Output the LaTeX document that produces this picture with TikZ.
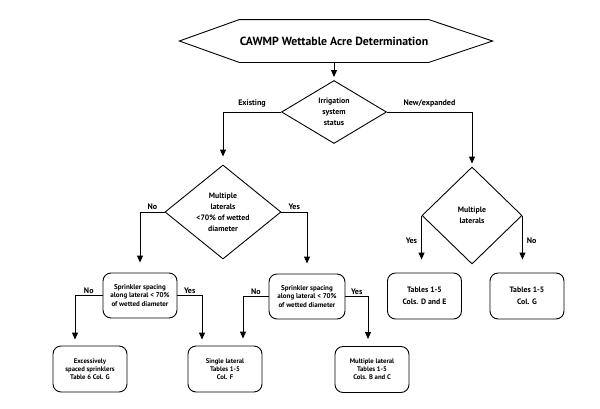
\documentclass[tikz,border=0pt]{standalone}
\usepackage{fontspec}
\setmainfont{PT Sans}
\usepackage{tikz}
\usetikzlibrary{shapes.geometric,arrows.meta,calc,positioning}

\begin{document}
\begin{tikzpicture}[x=1pt,y=-1pt,line width=0.9pt,
                    arr/.style={-{Triangle[length=7pt,width=6pt]}},
                    decision/.style={diamond,draw,inner sep=0pt,align=center,font=\bfseries\fontsize{7.8}{11}\selectfont},
                    main node/.style={rectangle,rounded corners=8pt,draw,align=center,inner sep=0pt,minimum width=74pt,minimum height=46pt},
                    lbl/.style={font=\bfseries\fontsize{8}{9}\selectfont,above,inner sep=1.5pt}]
\useasboundingbox (0,0) rectangle (600,408);

% title banner
\node[minimum width=178pt,minimum height=42pt,inner sep=0pt,font=\bfseries\fontsize{11.8}{13}\selectfont] (title) at (334,41) {CAWMP Wettable Acre Determination};
\draw (title.north west) -- (title.north east) -- ([xshift=64pt]title.east) -- (title.south east)
      -- (title.south west) -- ([xshift=-60pt]title.west) -- cycle;

% decisions
\node[decision,minimum width=105pt,minimum height=63pt] (status) at (334,112) {Irrigation\\system\\status};
\node[decision,minimum width=116pt,minimum height=94pt] (lat) at (223,212) {Multiple\\laterals\\<70\% of wetted\\diameter};
\node[decision,minimum width=100pt,minimum height=97pt] (new) at (472,215.5) {Multiple\\laterals};

% boxes
\node[main node,minimum width=74pt,minimum height=45pt,font=\bfseries\fontsize{7}{8.5}\selectfont] (spc1) at (140,295.5) {Sprinkler spacing\\along lateral < 70\%\\of wetted diameter};
\node[main node,minimum width=76pt,minimum height=45pt,font=\bfseries\fontsize{7}{8.5}\selectfont] (spc2) at (307,296.5) {Sprinkler spacing\\along lateral < 70\%\\of wetted diameter};
\node[main node,font=\bfseries\fontsize{7.8}{12.5}\selectfont] (de) at (424.5,296) {Tables 1-5\\Cols. D and E};
\node[main node,font=\bfseries\fontsize{7.8}{12.5}\selectfont] (g) at (527,296) {Tables 1-5\\Col. G};
\node[main node,font=\bfseries\fontsize{6.7}{8}\selectfont] (exc) at (90,369) {Excessively\\spaced sprinklers\\Table 6 Col. G};
\node[main node,font=\bfseries\fontsize{6.7}{8}\selectfont] (single) at (225,369) {Single lateral\\Tables 1-5\\Col. F};
\node[main node,font=\bfseries\fontsize{6.7}{8}\selectfont] (multi) at (372,369.5) {Multiple lateral\\Tables 1-5\\Cols. B and C};

% connectors
\draw[arr,shorten >=3pt] (title.south) -- (status.north);
\draw[arr,shorten >=8pt] (status.west) -| node[lbl,pos=0.25,yshift=3pt]{Existing} (lat.north);
\draw[arr,shorten >=3pt] (status.east) -| node[lbl,pos=0.25,yshift=3pt]{New/expanded} (new.north);

\draw[arr,shorten >=10pt] (lat.west) -| node[lbl,pos=0.25]{No} (spc1.north);
\draw[arr,shorten >=10pt] (lat.east) -| node[lbl,pos=0.25]{Yes} (spc2.north);

\draw[arr,shorten >=13pt] (new.west) -- node[lbl,left,pos=0.45,inner sep=4pt]{Yes} (new.west |- de.north);
\draw[arr,shorten >=13pt] (new.east) -- node[lbl,right,pos=0.45,inner sep=4pt]{No} (new.east |- g.north);

\draw[arr,shorten >=6pt] (spc1.west) -| node[lbl,pos=0.25]{No} ([xshift=-15pt]exc.north);
\draw[arr,shorten >=6pt] (spc1.east) -| node[lbl,pos=0.25]{Yes} ([xshift=-23pt]single.north);
\draw[arr,shorten >=7pt] (spc2.west) -| node[lbl,pos=0.25]{No} ([xshift=18pt]single.north);
\draw[arr,shorten >=7pt] (spc2.east) -| node[lbl,pos=0.25]{Yes} ([xshift=-4pt]multi.north);

\end{tikzpicture}
\end{document}
